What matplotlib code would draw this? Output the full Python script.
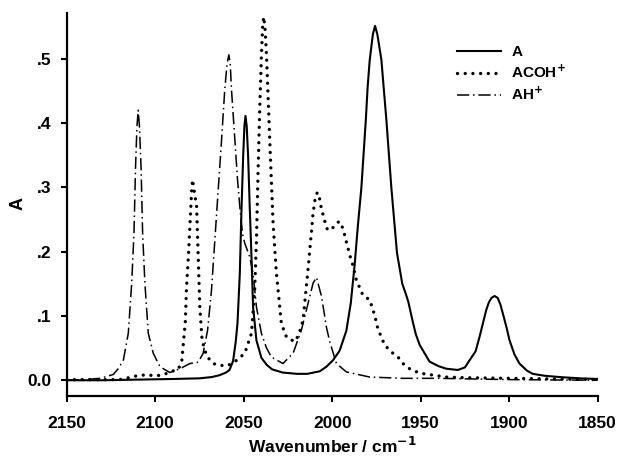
import matplotlib
matplotlib.use("Agg")
import matplotlib.pyplot as plt

plt.rcParams['font.family'] = ['Liberation Sans', 'DejaVu Sans']
plt.rcParams['font.weight'] = 'bold'
plt.rcParams['mathtext.default'] = 'bf'

# spectrum A (solid)
a_wn = [2150, 2130, 2110, 2090, 2075, 2068, 2063.5, 2060, 2058, 2056, 2054.5, 2053.5,
        2052.2, 2051.2, 2050.3, 2049.6, 2049, 2048.3, 2047.5, 2046.6, 2045.6, 2044.7,
        2042.8, 2040, 2037, 2034, 2028, 2020, 2014, 2007, 2003.3, 1999.6, 1995.8,
        1992, 1989.5, 1987.3, 1985.5, 1983.5, 1981, 1980, 1978.8, 1977, 1975.8, 1974.5,
        1972.2, 1971, 1969.4, 1966.6, 1963.4, 1960.4, 1958.5, 1957, 1954.4, 1952.8, 1950.6,
        1945, 1940, 1935.6, 1929, 1925, 1922.4, 1919, 1916.8, 1913, 1911.5, 1910, 1908.3,
        1906.5, 1905, 1903.6, 1901.5, 1899.8, 1897, 1894.2, 1890, 1886.7, 1880, 1871.6,
        1860, 1850]
a_abs = [0.000, 0.000, 0.001, 0.002, 0.003, 0.005, 0.008, 0.012, 0.016, 0.030, 0.060, 0.089,
         0.166, 0.270, 0.348, 0.395, 0.411, 0.395, 0.348, 0.270, 0.192, 0.114,
         0.062, 0.035, 0.024, 0.017, 0.012, 0.010, 0.010, 0.014, 0.021, 0.031, 0.046,
         0.077, 0.120, 0.180, 0.240, 0.300, 0.405, 0.455, 0.498, 0.538, 0.551, 0.538,
         0.498, 0.458, 0.405, 0.300, 0.198, 0.150, 0.135, 0.122, 0.090, 0.072, 0.055,
         0.029, 0.022, 0.018, 0.016, 0.020, 0.031, 0.045, 0.067, 0.109, 0.121, 0.128, 0.131,
         0.128, 0.118, 0.104, 0.082, 0.062, 0.040, 0.026, 0.015, 0.010, 0.007, 0.005,
         0.003, 0.002]

# spectrum ACOH+ (dotted)
acoh_wn = [2150, 2140, 2130, 2120, 2115, 2108.6, 2104, 2099, 2095, 2091.7, 2087, 2085,
           2084, 2083, 2082.3, 2081.3, 2080.4, 2079.5, 2078.9, 2078, 2076.6, 2075.7,
           2074.8, 2073.5, 2071, 2067.3, 2063.5, 2058.8, 2054, 2049.4, 2045.6, 2043.8,
           2042.8, 2041.9, 2040.9, 2040, 2039.3, 2038.7, 2038, 2037.1, 2035.3, 2033.4,
           2031.5, 2028.7, 2025.8, 2021.2, 2019, 2016.5, 2013.7, 2010.8, 2009.5, 2008.4,
           2007.3, 2006.5, 2004.5, 2002.7, 2000.5, 1998, 1996, 1993.9, 1992, 1989.7, 1988.3,
           1986.4, 1982.6, 1978.8, 1976, 1974.2, 1972.2, 1970.4, 1966.6, 1962.8, 1960,
           1956.3, 1950.6, 1943, 1935.6, 1925, 1900, 1875, 1850]
acoh_abs = [0.001, 0.001, 0.001, 0.001, 0.004, 0.008, 0.008, 0.007, 0.009, 0.013, 0.017, 0.029,
            0.060, 0.090, 0.145, 0.190, 0.239, 0.290, 0.312, 0.295, 0.270, 0.192,
            0.114, 0.062, 0.038, 0.026, 0.023, 0.023, 0.031, 0.042, 0.073, 0.140,
            0.218, 0.322, 0.426, 0.504, 0.550, 0.565, 0.550, 0.504, 0.374, 0.244,
            0.166, 0.088, 0.067, 0.060, 0.070, 0.093, 0.171, 0.260, 0.285, 0.292,
            0.285, 0.272, 0.250, 0.234, 0.234, 0.243, 0.247, 0.236, 0.215, 0.191, 0.179,
            0.156, 0.132, 0.125, 0.101, 0.080, 0.067, 0.055, 0.044, 0.036, 0.026,
            0.018, 0.011, 0.008, 0.005, 0.004, 0.003, 0.002, 0.001]

# spectrum AH+ (dash-dot)
ah_wn = [2150, 2140, 2131, 2123.7, 2120.9, 2118, 2115.2, 2113.3, 2112, 2111.1, 2110.3, 2109.6,
         2108.9, 2108, 2107.1, 2105.8, 2103.9, 2101.1, 2097.3, 2091.7, 2086, 2080.4, 2075.7,
         2072.9, 2070.4, 2068.2, 2066.3, 2064.4, 2062.5, 2060.7, 2059.4, 2058.4, 2057.6,
         2056.9, 2055, 2053.5, 2052.2, 2050.7, 2049.4, 2046.6, 2044.7, 2042.8, 2040, 2037.1,
         2034.3, 2027.8, 2022.1, 2017.4, 2013.7, 2010.8, 2008.9, 2006, 2003.3, 2001.4, 1997.6,
         1992, 1978.8, 1960, 1940, 1900, 1850]
ah_abs = [0.000, 0.001, 0.003, 0.009, 0.018, 0.031, 0.073, 0.150, 0.228, 0.332, 0.395, 0.420,
          0.395, 0.332, 0.228, 0.150, 0.073, 0.042, 0.021, 0.012, 0.018, 0.026, 0.028,
          0.042, 0.078, 0.140, 0.218, 0.296, 0.374, 0.452, 0.492, 0.506, 0.492,
          0.452, 0.374, 0.312, 0.270, 0.228, 0.213, 0.192, 0.166, 0.114, 0.073, 0.050,
          0.036, 0.026, 0.042, 0.078, 0.119, 0.151, 0.160, 0.130, 0.083, 0.060, 0.026,
          0.013, 0.005, 0.003, 0.003, 0.001, 0.000]

y_ticks = [0.0, 0.1, 0.2, 0.3, 0.4, 0.5]
y_labels = ['0.0', '.1', '.2', '.3', '.4', '.5']
x_ticks = [2150, 2100, 2050, 2000, 1950, 1900, 1850]

fig = plt.figure(figsize=(6.19, 4.58), dpi=100)
ax = fig.add_axes([66.7 / 619, 1 - 395.7 / 458, (597.7 - 66.7) / 619, (395.7 - 13) / 458])

ax.plot(a_wn, a_abs, color='black', lw=1.5, label='A')
ax.plot(acoh_wn, acoh_abs, color='black', lw=2.4, linestyle=(0, (0.01, 2.3)),
        dash_capstyle='round', label=r'ACOH$^{+}$')
ax.plot(ah_wn, ah_abs, color='black', lw=1.1, linestyle=(0, (8, 2.5, 1, 2.5)),
        label=r'AH$^{+}$')

ax.set_xlim(2150, 1850)
ax.set_ylim(-0.024, 0.571)
ax.set_xticks(x_ticks)
ax.set_yticks(y_ticks)
ax.set_yticklabels(y_labels)
ax.tick_params(direction='out', length=4.3, width=1.5, labelsize=12.5)
ax.tick_params(axis='x', pad=10.5)
ax.tick_params(axis='y', pad=6.5)
for lab in ax.get_xticklabels() + ax.get_yticklabels():
    lab.set_fontweight('bold')

for s in ['top', 'right']:
    ax.spines[s].set_visible(False)
for s in ['left', 'bottom']:
    ax.spines[s].set_linewidth(1.6)

ax.set_xlabel(r'Wavenumber / cm$^{-1}$', fontsize=12.5, fontweight='bold', labelpad=3.5)
fig.text(18 / 619, 1 - 204 / 458, 'A', rotation=90, ha='center', va='center',
         fontsize=13, fontweight='bold')

leg = ax.legend(loc='upper left', bbox_to_anchor=(457 / 619, 1 - 45.5 / 458),
                bbox_transform=fig.transFigure, frameon=False, fontsize=11,
                handlelength=2.9, handletextpad=0.65, labelspacing=0.3,
                borderpad=0, borderaxespad=0)
for t in leg.get_texts():
    t.set_fontweight('bold')

fig.savefig('out.png', dpi=100)
